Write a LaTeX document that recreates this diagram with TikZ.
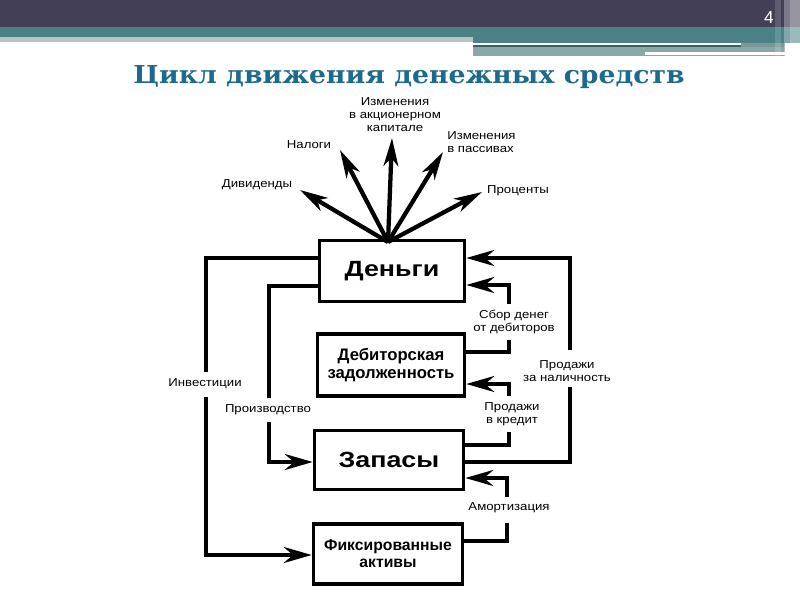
\documentclass[tikz,border=0pt]{standalone}
\usepackage{fontspec}
\setmainfont{Liberation Sans}
\newfontfamily\titlefont{DejaVu Serif}
\usetikzlibrary{arrows.meta}
\definecolor{hdark}{HTML}{433F57}
\definecolor{hteal}{HTML}{4A8286}
\definecolor{hdteal}{HTML}{3D6064}
\definecolor{hgteal}{HTML}{8BA8A9}
\definecolor{hlgray}{HTML}{B8C3C4}
\definecolor{titleblue}{HTML}{1C6A8C}
\tikzset{
  box/.style={draw=black, line width=2.7pt, fill=white, inner sep=0pt},
  flow/.style={line width=3pt, -{Stealth[length=21pt,width=12pt,inset=7pt]}},
  fan/.style={line width=3.2pt, -{Stealth[length=21pt,width=11pt,inset=6pt]}},
  line/.style={line width=3pt},
  lbl/.style={font=\fontsize{8.6pt}{10pt}\selectfont, align=center, inner sep=0pt},
  big/.style={font=\bfseries\fontsize{16.5pt}{17pt}\selectfont, align=center, inner sep=0pt},
  mid/.style={font=\bfseries\fontsize{12.5pt}{13.5pt}\selectfont, align=center, inner sep=0pt},
  sml/.style={font=\bfseries\fontsize{11.8pt}{12.75pt}\selectfont, align=center, inner sep=0pt}
}
\begin{document}
\begin{tikzpicture}[x=0.75pt,y=-0.75pt]
\useasboundingbox (0,0) rectangle (800,600);
\fill[white] (0,0) rectangle (800,600);
% header
\fill[hdark] (0,0) rectangle (800,27);
\fill[hteal] (0,27) rectangle (800,37);
\fill[hlgray] (0,37) rectangle (473,42);
\fill[hteal] (473,37) rectangle (800,42.5);
\fill[white] (473,42.5) rectangle (741,45);
\fill[hdteal] (473,45) rectangle (741,47);
\fill[hgteal] (473,47) rectangle (785,56);
\fill[hgteal!90!black] (741,42.5) rectangle (785,47);
\fill[white] (645,51.5) rectangle (785,54.5);
\fill[white, opacity=0.15] (775,0) rectangle (781,56);
\fill[white, opacity=0.3] (784,0) rectangle (790,56);
\fill[white, opacity=0.45] (790,0) rectangle (800,56);
\node[text=white, font=\fontsize{13pt}{13pt}\selectfont] (pnum) at (769,18) {4};
% title
\node[text=titleblue, font=\titlefont\bfseries\fontsize{18.5pt}{20pt}\selectfont] (title) at (409,77.5) {\scalebox{1.08}[1]{Цикл движения денежных средств}};
% boxes
\node[box, minimum width=145pt*0.75, minimum height=61pt*0.75] (money) at (392,271) {};
\node[big] at (money.center) {\scalebox{1.22}[1]{Деньги}};
\node[box, minimum width=147pt*0.75, minimum height=62pt*0.75] (debt) at (391,365) {};
\node[mid] at (debt.center) {Дебиторская\\задолженность};
\node[box, minimum width=149pt*0.75, minimum height=59pt*0.75] (stock) at (389,460) {};
\node[big] at (stock.center) {\scalebox{1.22}[1]{Запасы}};
\node[box, minimum width=149pt*0.75, minimum height=60pt*0.75] (fixed) at (388,554) {};
\node[sml] at (fixed.center) {Фиксированные\\активы};
% fan
\coordinate (o) at (388,242);
\coordinate (t1) at (300,190);
\coordinate (t2) at (340,150);
\coordinate (t3) at (392,138);
\coordinate (t4) at (443,152);
\coordinate (t5) at (482,192);
\draw[fan] (o) -- (t1);
\draw[fan] (o) -- (t2);
\draw[fan] (o) -- (t3);
\draw[fan] (o) -- (t4);
\draw[fan] (o) -- (t5);
\node[lbl] (l1) at (257,185) {\scalebox{1.15}[1]{Дивиденды}};
\node[lbl] (l2) at (309,145) {\scalebox{1.15}[1]{Налоги}};
\node[lbl] (l3) at (395,114.5) {\scalebox{1.15}[1]{Изменения}\\\scalebox{1.15}[1]{в акционерном}\\\scalebox{1.15}[1]{капитале}};
\node[lbl, align=left, anchor=west] (l4) at (447,142) {\scalebox{1.15}[1]{Изменения}\\\scalebox{1.15}[1]{в пассивах}};
\node[lbl] (l5) at (518,191) {\scalebox{1.15}[1]{Проценты}};
% left flows
\coordinate (a1) at (206,258);
\coordinate (a2) at (206,372);
\coordinate (a3) at (206,397);
\coordinate (a4) at (206,555);
\draw[line] (money.west |- a1) -- (a1) -- (a2);
\draw[flow] (a3) -- (a4) -- (fixed.west |- a4);
\coordinate (b1) at (269,286);
\coordinate (b2) at (269,398);
\coordinate (b3) at (269,422);
\coordinate (b4) at (269,462);
\draw[line] (money.west |- b1) -- (b1) -- (b2);
\draw[flow] (b3) -- (b4) -- (stock.west |- b4);
\node[lbl] (linv) at (205,384) {\scalebox{1.15}[1]{Инвестиции}};
\node[lbl] (lprod) at (268,410) {\scalebox{1.15}[1]{Производство}};
% right: cash sales
\coordinate (c1) at (570,462);
\coordinate (c2) at (570,387);
\coordinate (c3) at (570,350);
\coordinate (c4) at (570,258);
\draw[line] (stock.east |- c1) -- (c1) -- (c2);
\draw[flow] (c3) -- (c4) -- (money.east |- c4);
\node[lbl] (lcash) at (567,371) {\scalebox{1.15}[1]{Продажи}\\\scalebox{1.15}[1]{за наличность}};
% collection
\coordinate (d1) at (509,352);
\coordinate (d2) at (509,340);
\coordinate (d3) at (509,304);
\coordinate (d4) at (509,285);
\draw[line] (debt.east |- d1) -- (d1) -- (d2);
\draw[flow] (d3) -- (d4) -- (money.east |- d4);
\node[lbl] (lcoll) at (514,322) {\scalebox{1.15}[1]{Сбор денег}\\\scalebox{1.15}[1]{от дебиторов}};
% credit sales
\coordinate (e1) at (509,445);
\coordinate (e2) at (509,432);
\coordinate (e3) at (509,396);
\coordinate (e4) at (509,384);
\draw[line] (stock.east |- e1) -- (e1) -- (e2);
\draw[flow] (e3) -- (e4) -- (debt.east |- e4);
\node[lbl] (lcred) at (512,414) {\scalebox{1.15}[1]{Продажи}\\\scalebox{1.15}[1]{в кредит}};
% depreciation
\coordinate (f1) at (507,541);
\coordinate (f2) at (507,523);
\coordinate (f3) at (507,497);
\coordinate (f4) at (507,478);
\draw[line] (fixed.east |- f1) -- (f1) -- (f2);
\draw[flow] (f3) -- (f4) -- (stock.east |- f4);
\node[lbl] (ldep) at (509,508) {\scalebox{1.15}[1]{Амортизация}};
\end{tikzpicture}
\end{document}
